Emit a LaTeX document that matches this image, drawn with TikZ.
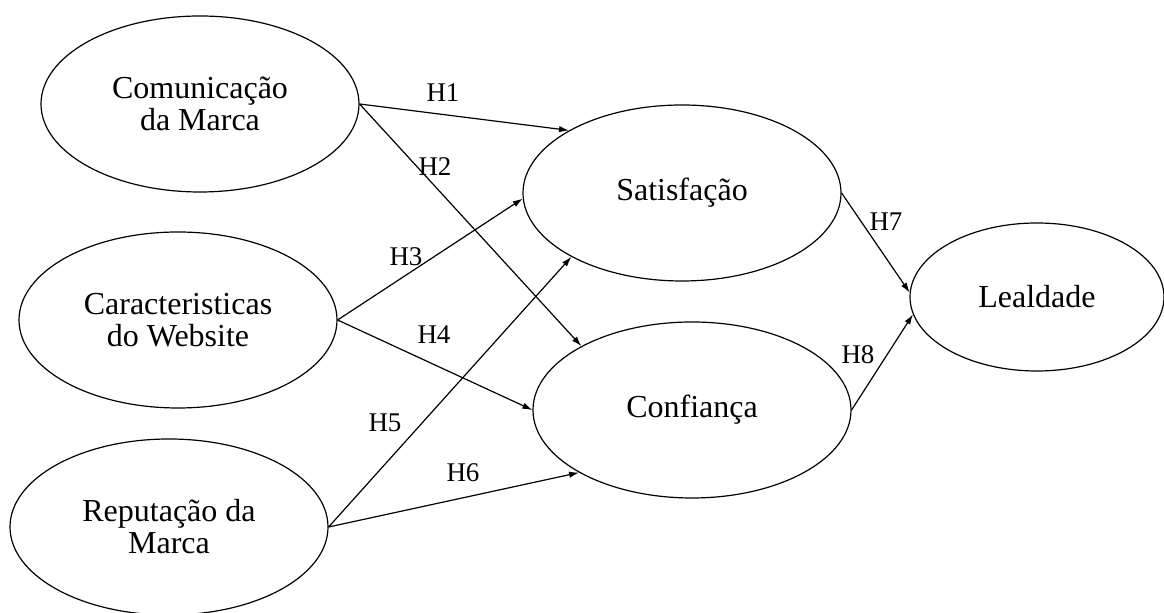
\documentclass[tikz,border=0pt]{standalone}
\usepackage{fontspec}
\setmainfont{Liberation Serif}
\usetikzlibrary{shapes.geometric}
\usetikzlibrary{arrows.meta}

\begin{document}
\begin{tikzpicture}
  [x=0.5pt,y=-0.5pt,
   latent/.style={draw,ellipse,line width=0.6pt,inner sep=0pt,
     minimum width=159pt,minimum height=88pt,align=center,
     font=\fontsize{16}{16}\selectfont},
   hyp/.style={inner sep=0pt,font=\fontsize{13.5}{14}\selectfont},
   effect/.style={line width=0.6pt,-{Latex[length=5pt,width=3.2pt]}}]
  \useasboundingbox (0,0) rectangle (1164,613);

  \node[latent] (com)  at (200,104) {Comunicação\\da Marca};
  \node[latent] (car)  at (178,320) {Caracteristicas\\do Website};
  \node[latent] (rep)  at (169,527) {Reputação da\\Marca};
  \node[latent] (sat)  at (682,193) {Satisfação};
  \node[latent] (conf) at (692,410) {Confiança};
  \node[latent,minimum width=127pt,minimum height=74pt] (leal) at (1037,297) {Lealdade};

  \node[hyp] (h1) at (443,93)  {H1};
  \node[hyp] (h2) at (435,167) {H2};
  \node[hyp] (h3) at (406,257) {H3};
  \node[hyp] (h4) at (434,335) {H4};
  \node[hyp] (h5) at (385,423) {H5};
  \node[hyp] (h6) at (463,473) {H6};
  \node[hyp] (h7) at (886,222) {H7};
  \node[hyp] (h8) at (858,355) {H8};

  \foreach \from/\to in {com.east/sat.151,com.east/conf.150,car.east/sat.182,
      car.east/conf.west,rep.east/sat.210,rep.east/conf.209,
      sat.east/leal.178,conf.east/leal.188}
    \draw[effect] (\from) -- (\to);
\end{tikzpicture}
\end{document}
